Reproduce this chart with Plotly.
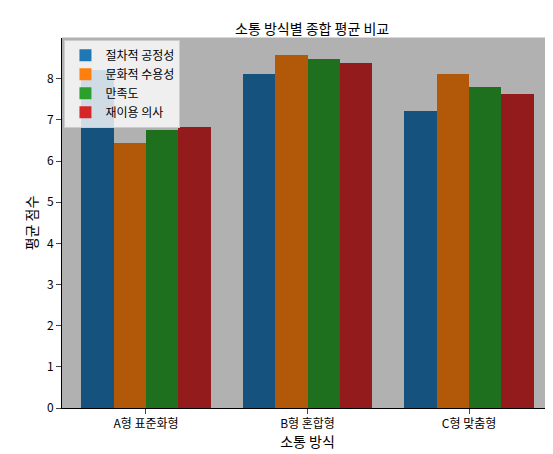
import plotly.graph_objects as go

groups = ["A형 표준화형", "B형 혼합형", "C형 맞춤형"]
series = ["절차적 공정성", "문화적 수용성", "만족도", "재이용 의사"]
values = {
    "절차적 공정성": [8.22, 8.12, 7.22],
    "문화적 수용성": [6.45, 8.57, 8.12],
    "만족도": [6.75, 8.48, 7.80],
    "재이용 의사": [6.82, 8.38, 7.63],
}
colors = ["#1f77b4", "#ff7f0e", "#2ca02c", "#d62728"]

width = 0.2
fig = go.Figure()
for i, name in enumerate(series):
    xs = [g + (i - 1.5) * width for g in range(len(groups))]
    fig.add_trace(go.Bar(x=xs, y=values[name], name=name, width=width,
                         marker=dict(color=colors[i], line=dict(width=0))))

font = "Noto Sans CJK KR"
fig.update_layout(
    width=553, height=454, template="simple_white",
    font=dict(family=font, size=12, color="black"),
    title=dict(text="소통 방식별 종합 평균 비교", x=0.55, xanchor="center", y=0.965, font=dict(size=14)),
    margin=dict(l=54, r=8, t=30, b=54),
    bargap=0,
    legend=dict(x=0.005, y=0.995, xanchor="left", yanchor="top", bgcolor="rgba(255,255,255,0.8)",
                bordercolor="#cccccc", borderwidth=1, font=dict(size=12)),
    xaxis=dict(range=[-0.52, 2.52], tickvals=[0, 1, 2], ticktext=groups, title="소통 방식",
               showline=True, linecolor="black", ticks="outside", title_standoff=4),
    yaxis=dict(range=[0, 8.99], tickvals=list(range(9)), title="평균 점수", showline=True,
               linecolor="black", ticks="outside", title_standoff=6),
    shapes=[dict(type="rect", xref="paper", yref="paper", x0=0, y0=0, x1=1, y1=1,
                 line=dict(color="black", width=1))],
)
fig.write_html("out.html")
